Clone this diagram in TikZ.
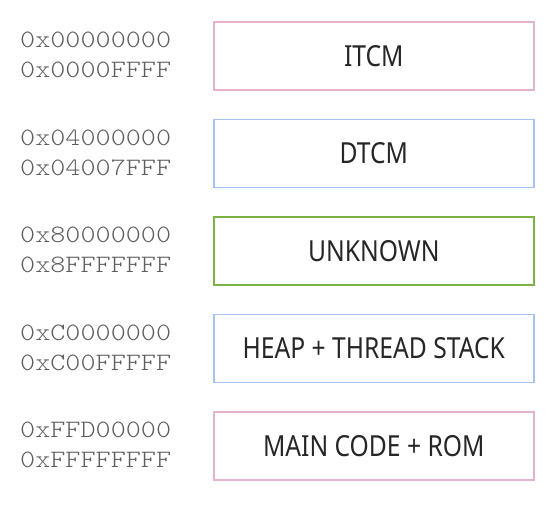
\documentclass[tikz,border=0pt]{standalone}
\usepackage{fontspec}
\setmainfont{Liberation Mono}
\newfontfamily\labelfont{Noto Sans}[FakeStretch=0.85]
\newfontfamily\addrfont{Latin Modern Mono Light}[FakeStretch=1.15]
\definecolor{mpink}{HTML}{E6B3CF}
\definecolor{mblue}{HTML}{A4C2F4}
\definecolor{mgreen}{HTML}{7CB342}
\definecolor{addrgray}{HTML}{5E5E5E}
\definecolor{txt}{HTML}{262626}
\begin{document}
\begin{tikzpicture}[x=1pt,y=-1pt,
  region/.style={draw=#1, line width=1.6pt, minimum width=320pt, minimum height=68pt, inner sep=0pt,
    font=\labelfont\fontsize{29}{32}\selectfont, text=txt, anchor=north west},
  addr/.style={font=\addrfont\fontsize{25}{30}\selectfont, text=addrgray, align=left, anchor=west, inner sep=0pt}]
\useasboundingbox (0,0) rectangle (560,509);
\node[region=mpink] (r1) at (213,21) {ITCM};
\node[region=mblue] (r2) at (213,118.5) {DTCM};
\node[region=mgreen] (r3) at (213,216) {UNKNOWN};
\node[region=mblue] (r4) at (213,313.5) {HEAP + THREAD STACK};
\node[region=mpink] (r5) at (213,411) {MAIN CODE + ROM};
\node[addr] (a1) at (20,55) {0x00000000\\0x0000FFFF};
\node[addr] (a2) at (20,152.5) {0x04000000\\0x04007FFF};
\node[addr] (a3) at (20,250) {0x80000000\\0x8FFFFFFF};
\node[addr] (a4) at (20,347.5) {0xC0000000\\0xC00FFFFF};
\node[addr] (a5) at (20,445) {0xFFD00000\\0xFFFFFFFF};
\end{tikzpicture}
\end{document}
